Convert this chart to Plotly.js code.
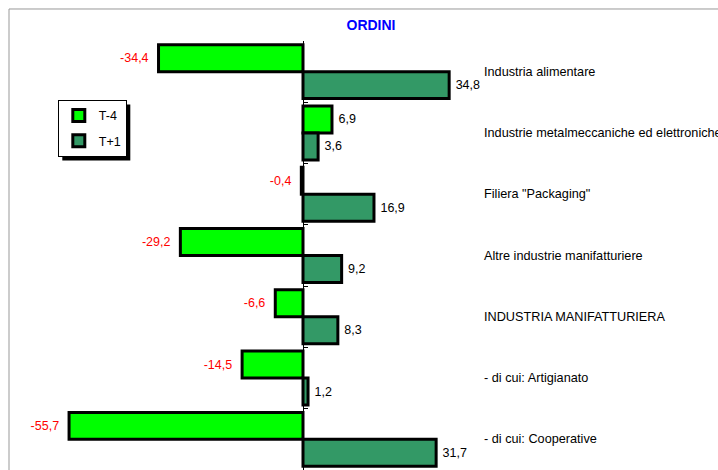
<!DOCTYPE html>
<html>
<head>
<meta charset="utf-8">
<script src="https://cdn.plot.ly/plotly-3.0.1.min.js"></script>
<style>html,body{margin:0;padding:0;background:#fff;}#chart{width:718px;height:470px;}</style>
</head>
<body>
<div id="chart"></div>
<script>
const categories = [
  'Industria alimentare',
  'Industrie metalmeccaniche ed elettroniche',
  'Filiera "Packaging"',
  'Altre industrie manifatturiere',
  'INDUSTRIA MANIFATTURIERA',
  '- di cui: Artigianato',
  '- di cui: Cooperative'
];
const seriesNames = ['T-4', 'T+1'];
const valuesT4 = [-34.4, 6.9, -0.4, -29.2, -6.6, -14.5, -55.7];
const valuesT1 = [34.8, 3.6, 16.9, 9.2, 8.3, 1.2, 31.7];

const NB = '\u00a0';
const fmt = v => v < 0 ? v.toFixed(1).replace('.', ',') + NB + NB : NB + v.toFixed(1).replace('.', ',');
const col = v => v < 0 ? '#FF0000' : '#000000';
const FONT = 'Liberation Sans, Arial, sans-serif';

const traces = [
  {
    type: 'bar', orientation: 'h', name: seriesNames[0], legendgroup: 'a',
    y: categories, x: valuesT4,
    text: valuesT4.map(fmt), textposition: 'outside',
    textfont: {color: valuesT4.map(col), size: 12.5, family: FONT},
    marker: {color: '#00FF00', line: {color: '#000000', width: 3}},
    cliponaxis: false, hoverinfo: 'skip'
  },
  {
    type: 'bar', orientation: 'h', name: seriesNames[1], legendgroup: 'b',
    y: categories, x: valuesT1,
    text: valuesT1.map(fmt), textposition: 'outside',
    textfont: {color: valuesT1.map(col), size: 12.5, family: FONT},
    marker: {color: '#339966', line: {color: '#000000', width: 3}},
    cliponaxis: false, hoverinfo: 'skip'
  }
];

const annotations = categories.map(c => ({
  xref: 'paper', yref: 'y', x: 0.8044, y: c, xanchor: 'left', yanchor: 'middle',
  text: c, showarrow: false,
  font: {family: FONT, size: 12.7, color: '#000000'}
}));

const layout = {
  width: 718, height: 470,
  margin: {l: 9, r: 121, t: 41, b: 0, pad: 0},
  paper_bgcolor: '#ffffff', plot_bgcolor: 'rgba(0,0,0,0)',
  font: {family: FONT, size: 12, color: '#000'},
  title: {
    text: '<b>ORDINI</b>', font: {family: FONT, size: 14, color: '#0000FF'},
    xref: 'container', yref: 'container', x: 371 / 718, y: 1 - 25.5 / 470,
    xanchor: 'center', yanchor: 'middle'
  },
  barmode: 'group', bargap: 0.12, bargroupgap: 0,
  xaxis: {
    range: [-70, 70], showgrid: false, zeroline: false,
    showticklabels: false, ticks: '', showline: false, fixedrange: true
  },
  yaxis: {
    type: 'category', range: [6.5, -0.5], anchor: 'free', position: 0.5,
    showgrid: false, zeroline: false, showline: true, linecolor: '#000', linewidth: 1,
    ticks: 'inside', tickson: 'boundaries', ticklen: 4, tickcolor: '#000',
    showticklabels: false, fixedrange: true
  },
  showlegend: true,
  legend: {
    x: 0.083, y: 0.8625, xanchor: 'left', yanchor: 'top',
    bgcolor: '#ffffff', bordercolor: '#000000', borderwidth: 1,
    font: {family: FONT, size: 12.5, color: '#000'},
    itemwidth: 30, tracegroupgap: 6
  },
  annotations: annotations,
  shapes: [
    {type: 'line', xref: 'paper', yref: 'paper', x0: 0, x1: 1.3, y0: 1.0746, y1: 1.0746,
     line: {color: '#999999', width: 1}},
    {type: 'line', xref: 'paper', yref: 'paper', x0: 0, x1: 0, y0: 1.0746, y1: -0.1,
     line: {color: '#999999', width: 1}}
  ]
};

Plotly.newPlot('chart', traces, layout, {displayModeBar: false, staticPlot: true}).then(gd => {
  const bg = gd.querySelector('.legend .bg');
  if (bg) {
    const r = bg.getBoundingClientRect();
    const c = gd.getBoundingClientRect();
    const fs = gd._fullLayout._size;
    const px2x = p => (p - c.left - fs.l) / fs.w;
    const px2y = p => 1 - (p - c.top - fs.t) / fs.h;
    const shapes = layout.shapes.concat([{
      type: 'rect', xref: 'paper', yref: 'paper', layer: 'below',
      x0: px2x(r.left + 4), x1: px2x(r.right + 4), y0: px2y(r.bottom + 4), y1: px2y(r.top + 4),
      fillcolor: '#000000', line: {width: 0}
    }]);
    Plotly.relayout(gd, {shapes: shapes});
  }
});
</script>
</body>
</html>
